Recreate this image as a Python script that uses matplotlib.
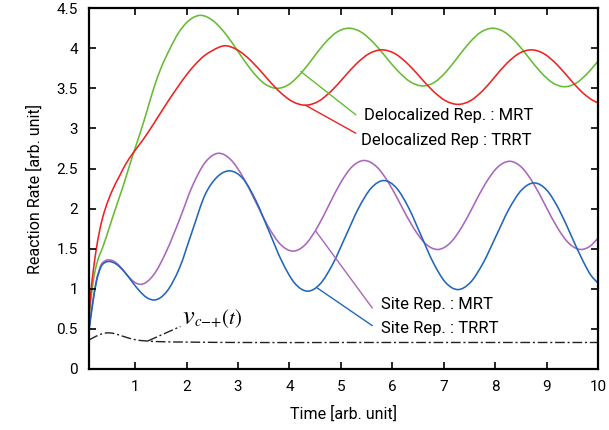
import matplotlib
matplotlib.use("Agg")
import matplotlib.pyplot as plt
from matplotlib.path import Path
from matplotlib.patches import PathPatch

# ---------------- data ----------------
x_deloc_mrt = [0.1, 0.15, 0.21, 0.27, 0.37, 0.47, 0.565, 0.76, 0.955, 1.1, 1.23, 1.36, 1.5, 1.68, 1.85,
               2.0, 2.12, 2.25,
               2.502, 2.753, 3.005, 3.257, 3.508, 3.76,
               3.992, 4.223, 4.455, 4.687, 4.918, 5.15,
               5.392, 5.633, 5.875, 6.117, 6.358, 6.6,
               6.825, 7.05, 7.275, 7.5, 7.725, 7.95,
               8.183, 8.417, 8.65, 8.883, 9.117, 9.35,
               9.583, 9.817, 10.0]
y_deloc_mrt = [0.60, 0.93, 1.19, 1.35, 1.52, 1.71, 1.90, 2.27, 2.67, 2.95, 3.22, 3.5, 3.75, 4.0, 4.2,
               4.32, 4.38, 4.41,
               4.349, 4.183, 3.955, 3.728, 3.561, 3.50,
               3.55, 3.688, 3.875, 4.063, 4.20, 4.25,
               4.202, 4.07, 3.89, 3.71, 3.578, 3.53,
               3.578, 3.71, 3.89, 4.07, 4.202, 4.25,
               4.201, 4.068, 3.885, 3.703, 3.569, 3.52,
               3.569, 3.703, 3.84]

x_deloc_trrt = [0.1, 0.14, 0.19, 0.24, 0.3, 0.36, 0.43, 0.55, 0.69, 0.82, 0.955, 1.12, 1.26, 1.45, 1.63,
                1.81, 2.0, 2.17, 2.35, 2.5, 2.62, 2.72,
                2.985, 3.25, 3.515, 3.78, 4.045, 4.31,
                4.558, 4.807, 5.055, 5.303, 5.552, 5.8,
                6.047, 6.293, 6.54, 6.787, 7.033, 7.28,
                7.517, 7.753, 7.99, 8.227, 8.463, 8.7,
                8.94, 9.18, 9.42, 9.66, 9.9, 10.0]
y_deloc_trrt = [0.67, 0.97, 1.25, 1.48, 1.70, 1.87, 2.02, 2.22, 2.40, 2.56, 2.69, 2.83, 2.96, 3.15, 3.33,
                3.5, 3.67, 3.8, 3.91, 3.97, 4.01, 4.03,
                3.98, 3.845, 3.66, 3.475, 3.34, 3.29,
                3.336, 3.463, 3.635, 3.808, 3.934, 3.98,
                3.934, 3.81, 3.64, 3.47, 3.346, 3.30,
                3.345, 3.468, 3.64, 3.813, 3.935, 3.98,
                3.935, 3.81, 3.64, 3.47, 3.35, 3.32]

x_site_mrt = [0.1, 0.175, 0.24, 0.34, 0.42, 0.49,
              0.59, 0.692, 0.794, 0.896, 0.998, 1.10,
              1.353, 1.607, 1.86, 2.113, 2.367, 2.62,
              2.862, 3.103, 3.345, 3.587, 3.828, 4.07,
              4.30, 4.53, 4.76, 4.99, 5.22, 5.45,
              5.688, 5.927, 6.165, 6.403, 6.642, 6.88,
              7.113, 7.347, 7.58, 7.813, 8.047, 8.28,
              8.512, 8.743, 8.975, 9.207, 9.438, 9.67,
              9.835, 10.0]
y_site_mrt = [0.50, 0.84, 1.09, 1.30, 1.35, 1.36,
              1.341, 1.288, 1.21, 1.133, 1.077, 1.055,
              1.169, 1.468, 1.86, 2.283, 2.581, 2.69,
              2.608, 2.385, 2.08, 1.775, 1.552, 1.47,
              1.546, 1.753, 2.035, 2.318, 2.524, 2.60,
              2.526, 2.323, 2.045, 1.768, 1.564, 1.49,
              1.564, 1.765, 2.04, 2.315, 2.516, 2.59,
              2.516, 2.315, 2.04, 1.765, 1.564, 1.49,
              1.527, 1.63]

x_site_trrt = [0.1, 0.175, 0.24, 0.34, 0.42, 0.48,
               0.63, 0.778, 0.925, 1.073, 1.222, 1.37,
               1.617, 1.863, 2.11, 2.357, 2.603, 2.85,
               3.10, 3.35, 3.60, 3.85, 4.10, 4.35,
               4.598, 4.847, 5.095, 5.343, 5.592, 5.84,
               6.078, 6.317, 6.555, 6.793, 7.032, 7.27,
               7.518, 7.767, 8.015, 8.263, 8.512, 8.76,
               8.998, 9.24, 9.48, 9.72, 9.86, 10.0]
y_site_trrt = [0.47, 0.82, 1.07, 1.28, 1.33, 1.34,
               1.308, 1.22, 1.10, 0.98, 0.891, 0.86,
               0.968, 1.263, 1.72, 2.17, 2.40, 2.47,
               2.370, 2.095, 1.72, 1.345, 1.071, 0.97,
               1.062, 1.315, 1.66, 2.005, 2.258, 2.35,
               2.259, 2.01, 1.67, 1.33, 1.081, 0.99,
               1.079, 1.323, 1.655, 1.988, 2.231, 2.32,
               2.234, 1.99, 1.66, 1.33, 1.17, 1.07]

x_v = [0.1, 0.2, 0.3, 0.4, 0.47, 0.6, 0.7, 0.8, 0.9, 1.0, 1.1, 1.2, 1.3, 1.5, 2.0, 3.0, 5.0, 10.0]
y_v = [0.36, 0.395, 0.425, 0.445, 0.45, 0.44, 0.42, 0.40, 0.38, 0.365, 0.355, 0.35, 0.345, 0.34, 0.335, 0.33, 0.33, 0.33]

x_ticks = [1, 2, 3, 4, 5, 6, 7, 8, 9, 10]
y_ticks = [0, 0.5, 1, 1.5, 2, 2.5, 3, 3.5, 4, 4.5]
y_tick_labels = ["0", "0.5", "1", "1.5", "2", "2.5", "3", "3.5", "4", "4.5"]

labels = ["Delocalized Rep. : MRT", "Delocalized Rep : TRRT", "Site Rep. : MRT", "Site Rep. : TRRT"]

# ---------------- styling ----------------
plt.rcParams['font.family'] = ['Roboto', 'DejaVu Sans']
C_GREEN = '#66bb33'
C_RED = '#ee2222'
C_PURPLE = '#aa66bb'
C_BLUE = '#2266bb'

fig = plt.figure(figsize=(6.09, 4.30), dpi=100)
ax = fig.add_axes([0.146, 0.142, 0.836, 0.839])


def smooth_curve(ax, xs, ys, **kw):
    """Draw a smooth cubic (Hermite/Bezier) curve through the given points."""
    n = len(xs)
    m = []
    for i in range(n):
        if i == 0:
            m.append((ys[1] - ys[0]) / (xs[1] - xs[0]))
        elif i == n - 1:
            m.append((ys[-1] - ys[-2]) / (xs[-1] - xs[-2]))
        else:
            h0 = xs[i] - xs[i - 1]
            h1 = xs[i + 1] - xs[i]
            d0 = (ys[i] - ys[i - 1]) / h0
            d1 = (ys[i + 1] - ys[i]) / h1
            m.append((d0 * h1 + d1 * h0) / (h0 + h1))
    verts = [(xs[0], ys[0])]
    codes = [Path.MOVETO]
    for i in range(n - 1):
        h = xs[i + 1] - xs[i]
        verts += [(xs[i] + h / 3, ys[i] + m[i] * h / 3),
                  (xs[i + 1] - h / 3, ys[i + 1] - m[i + 1] * h / 3),
                  (xs[i + 1], ys[i + 1])]
        codes += [Path.CURVE4] * 3
    patch = PathPatch(Path(verts, codes), fill=False, **kw)
    ax.add_patch(patch)


lw = 1.15
smooth_curve(ax, x_deloc_mrt, y_deloc_mrt, edgecolor=C_GREEN, lw=lw)
smooth_curve(ax, x_deloc_trrt, y_deloc_trrt, edgecolor=C_RED, lw=lw)
smooth_curve(ax, x_site_mrt, y_site_mrt, edgecolor=C_PURPLE, lw=lw)
smooth_curve(ax, x_site_trrt, y_site_trrt, edgecolor=C_BLUE, lw=lw)
dd = (0, (7, 2, 1.5, 2))
smooth_curve(ax, x_v, y_v, edgecolor='#222222', lw=1.0, linestyle=dd)

ax.set_xlim(0.1, 10)
ax.set_ylim(0, 4.5)
ax.set_xticks(x_ticks)
ax.set_xticklabels([str(t) for t in x_ticks])
ax.set_yticks(y_ticks)
ax.set_yticklabels(y_tick_labels)
ax.tick_params(direction='in', length=5, width=1.2, top=True, right=True,
               labelsize=11, pad=8, colors='black')
for s in ax.spines.values():
    s.set_linewidth(1.6)

ax.set_xlabel("Time [arb. unit]", fontsize=11.5, labelpad=8)
ax.set_ylabel("Reaction Rate [arb. unit]", fontsize=11.5, labelpad=10)


def leader(xy, xyt, color, ls='-'):
    ax.annotate('', xy=xy, xytext=xyt,
                arrowprops=dict(arrowstyle='-', color=color, lw=1.0, linestyle=ls,
                                shrinkA=0, shrinkB=0))


leader((4.22, 3.71), (5.29, 3.17), C_GREEN)
leader((4.31, 3.29), (5.29, 2.94), C_RED)
leader((4.51, 1.72), (5.61, 0.76), C_PURPLE)
leader((4.54, 1.01), (5.61, 0.54), C_BLUE)
ax.plot([1.25, 1.88], [0.35, 0.53], color='#222222', lw=1.0, linestyle=dd)

fs = 12
ax.text(5.45, 3.16, labels[0], fontsize=fs, va='center', ha='left')
ax.text(5.39, 2.85, labels[1], fontsize=fs, va='center', ha='left')
ax.text(5.78, 0.80, labels[2], fontsize=fs, va='center', ha='left')
ax.text(5.78, 0.51, labels[3], fontsize=fs, va='center', ha='left')

# v_{c-+}(t) label: large italic v followed by subscript and (t)
ax.text(1.91, 0.56, 'v', fontsize=19, fontstyle='italic', family='STIXGeneral',
        va='baseline', ha='left')
ax.annotate(r'$_{c{-}{+}}(t)$', xy=(1.91, 0.56), xytext=(8.5, 0), textcoords='offset points',
            fontsize=15, va='baseline', ha='left', math_fontfamily='stix')

fig.savefig("out.png", dpi=100)
